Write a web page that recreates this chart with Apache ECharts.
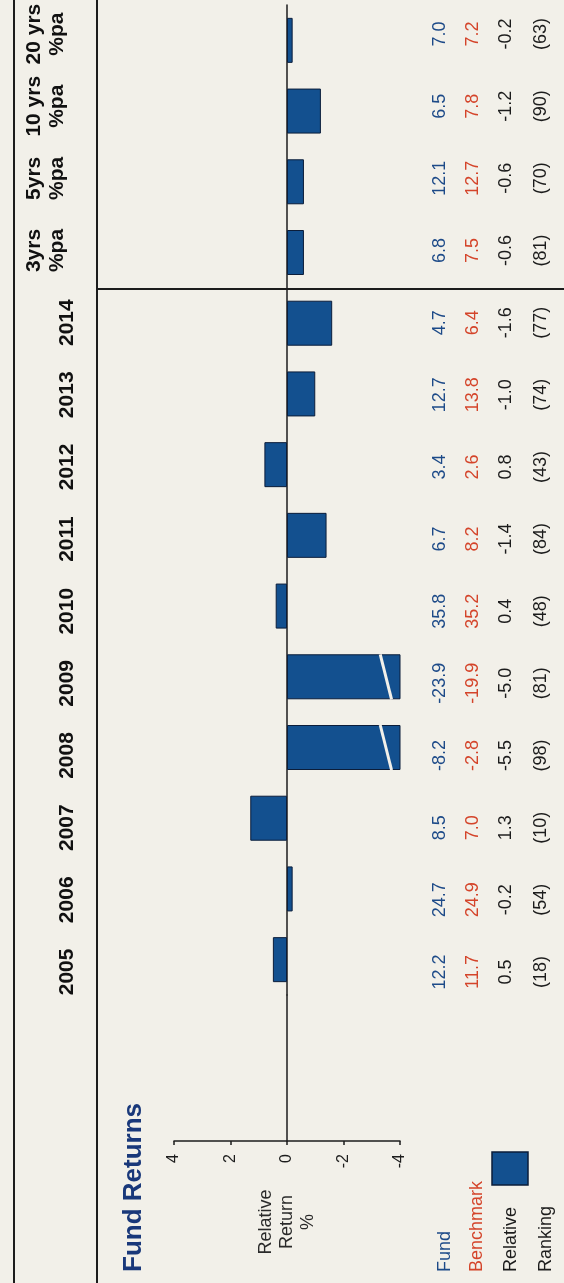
<!DOCTYPE html>
<html>
<head>
<meta charset="utf-8">
<title>Fund Returns</title>
<script src="https://cdn.jsdelivr.net/npm/echarts@6/dist/echarts.min.js"></script>
<style>
  html, body { margin: 0; padding: 0; background: #f2f0e9; }
  #chart { width: 564px; height: 1283px; }
</style>
</head>
<body>
<div id="chart"></div>
<script>
// the factsheet is printed sideways: categories run bottom -> top
const periods = ['2005', '2006', '2007', '2008', '2009', '2010', '2011', '2012', '2013', '2014', '3yrs', '5yrs', '10 yrs', '20 yrs']
const fundReturns = [12.2, 24.7, 8.5, -8.2, -23.9, 35.8, 6.7, 3.4, 12.7, 4.7, 6.8, 12.1, 6.5, 7.0]
const benchmarkReturns = [11.7, 24.9, 7.0, -2.8, -19.9, 35.2, 8.2, 2.6, 13.8, 6.4, 7.5, 12.7, 7.8, 7.2]
const relativeReturns = [0.5, -0.2, 1.3, -5.5, -5.0, 0.4, -1.4, 0.8, -1.0, -1.6, -0.6, -0.6, -1.2, -0.2]
const rankings = [18, 54, 10, 98, 81, 48, 84, 43, 74, 77, 81, 70, 90, 63]
const valueTicks = [-4, -2, 0, 2, 4]
const rowNames = ['Fund', 'Benchmark', 'Relative', 'Ranking']

const FONT = '"Liberation Sans", Arial, sans-serif'
const PAPER = '#f2f0e9'
const INK = '#1c1c1c'
const BLUE = '#1d4a88'
const RED = '#d4442a'
const NAVY = '#19387a'
const BAR = '#13508f'
const BAR_EDGE = '#0b1d3a'
const BAR_WIDTH = 45

const AXIS_MIN = valueTicks[0]
const AXIS_MAX = valueTicks[valueTicks.length - 1]
const AXIS_STEP = valueTicks[1] - valueTicks[0]

const isYear = (p) => !isNaN(Number(p))
const fmt1 = (v) => v.toFixed(1)

// one text column per table row, placed to the right of the bars
const tableColumns = [
  { values: fundReturns.map(fmt1), color: BLUE, margin: 20 },
  { values: benchmarkReturns.map(fmt1), color: RED, margin: 53 },
  { values: relativeReturns.map(fmt1), color: INK, margin: 86 },
  { values: rankings.map(r => `(${r})`), color: INK, margin: 121 }
]

const labelAxis = (position, margin, formatter, extra) => ({
  type: 'category',
  gridIndex: 2,
  data: periods,
  position,
  axisLine: { show: false, onZero: false },
  axisTick: { show: false },
  splitLine: { show: false },
  axisLabel: Object.assign({
    interval: 0,
    rotate: 90,
    margin,
    align: 'center',
    verticalAlign: 'middle',
    fontFamily: FONT,
    fontSize: 18,
    color: INK,
    formatter
  }, extra)
})

const chart = echarts.init(document.getElementById('chart'), null, { renderer: 'canvas' })

chart.setOption({
  animation: false,
  backgroundColor: PAPER,
  grid: [
    { left: 174, right: 164, top: 5, height: 990, outerBoundsMode: 'none' },
    { left: 174, right: 164, top: 995, height: 146, outerBoundsMode: 'none' },
    { left: 100, right: 144, top: -2, height: 1010, outerBoundsMode: 'none' }
  ],
  xAxis: [
    { type: 'value', gridIndex: 0, inverse: true, min: AXIS_MIN, max: AXIS_MAX, show: false },
    {
      type: 'value',
      gridIndex: 1,
      inverse: true,
      min: AXIS_MIN,
      max: AXIS_MAX,
      interval: AXIS_STEP,
      axisLine: { show: true, onZero: false, lineStyle: { color: INK, width: 1.5 } },
      axisTick: { show: true, length: 4, lineStyle: { color: INK, width: 1.5 } },
      splitLine: { show: false },
      axisLabel: { rotate: 90, margin: 13, fontFamily: FONT, fontSize: 16, color: INK },
      name: 'Relative\nReturn\n%',
      nameLocation: 'middle',
      nameGap: 81,
      nameRotate: 90,
      nameTextStyle: {
        fontFamily: FONT,
        fontSize: 18,
        lineHeight: 21,
        color: '#2a2a2a',
        align: 'center',
        verticalAlign: 'middle'
      }
    },
    { type: 'value', gridIndex: 2, min: 0, max: 1, show: false }
  ],
  yAxis: [
    {
      type: 'category',
      gridIndex: 0,
      data: periods,
      axisLine: { show: true, onZero: true, lineStyle: { color: INK, width: 1.5 } },
      axisTick: { show: false },
      axisLabel: { show: false },
      splitLine: { show: false }
    },
    {
      type: 'value',
      gridIndex: 1,
      min: 0,
      max: 1,
      axisLine: { show: true, onZero: true, lineStyle: { color: INK, width: 1.5 } },
      axisTick: { show: false },
      axisLabel: { show: false },
      splitLine: { show: false }
    },
    labelAxis('left', 33, (v) => (isYear(v) ? v : ''), { fontSize: 21, fontWeight: 'bold', color: '#111' }),
    labelAxis('left', 54, (v) => (isYear(v) ? '' : `${v}\n%pa`), { fontSize: 21, fontWeight: 'bold', color: '#111', lineHeight: 23 }),
    ...tableColumns.map(col => labelAxis('right', col.margin, (v, i) => col.values[i], { color: col.color }))
  ],
  series: [
    {
      name: 'Relative',
      type: 'bar',
      xAxisIndex: 0,
      yAxisIndex: 0,
      data: relativeReturns,
      barWidth: BAR_WIDTH,
      silent: true,
      itemStyle: { color: BAR, borderColor: BAR_EDGE, borderWidth: 1 }
    },
    {
      // white break marks on bars that run off the scale
      type: 'custom',
      xAxisIndex: 0,
      yAxisIndex: 0,
      z: 5,
      silent: true,
      data: relativeReturns.map((v, i) => [v, i]),
      encode: { x: 0, y: 1 },
      renderItem: (params, api) => {
        const v = api.value(0)
        if (Math.abs(v) <= AXIS_MAX) return null
        const row = api.value(1)
        const dir = Math.sign(v)
        const top = api.coord([dir * 3.3, row])
        const bottom = api.coord([dir * 3.7, row])
        return {
          type: 'line',
          shape: { x1: top[0], y1: top[1] - BAR_WIDTH / 2, x2: bottom[0], y2: bottom[1] + BAR_WIDTH / 2 },
          style: { stroke: PAPER, lineWidth: 3 }
        }
      }
    }
  ],
  graphic: [
    { type: 'line', shape: { x1: 14, y1: 0, x2: 14, y2: 1283 }, style: { stroke: INK, lineWidth: 2 } },
    { type: 'line', shape: { x1: 97, y1: 0, x2: 97, y2: 1283 }, style: { stroke: INK, lineWidth: 2 } },
    { type: 'line', shape: { x1: 97, y1: 289, x2: 564, y2: 289 }, style: { stroke: INK, lineWidth: 2 } },
    {
      type: 'text',
      x: 134,
      y: 1272,
      rotation: Math.PI / 2,
      style: { text: 'Fund Returns', fontFamily: FONT, fontSize: 26, fontWeight: 'bold', fill: NAVY, align: 'left', verticalAlign: 'middle' }
    },
    ...rowNames.map((name, i) => ({
      type: 'text',
      x: [445, 477, 511, 546][i],
      y: 1272,
      rotation: Math.PI / 2,
      style: { text: name, fontFamily: FONT, fontSize: 18, fill: tableColumns[i].color, align: 'left', verticalAlign: 'middle' }
    })),
    {
      type: 'rect',
      shape: { x: 492, y: 1152, width: 36, height: 33 },
      style: { fill: BAR, stroke: BAR_EDGE, lineWidth: 1.5 }
    }
  ]
})
</script>
</body>
</html>
